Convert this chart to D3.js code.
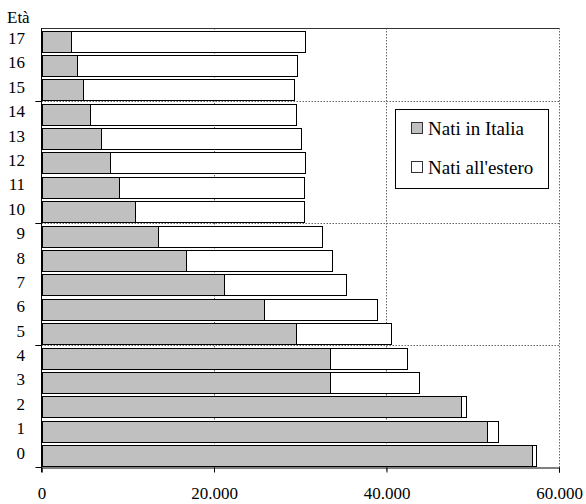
<!DOCTYPE html>
<html>
<head>
<meta charset="utf-8">
<script src="https://cdn.jsdelivr.net/npm/d3@7"></script>
<style>
  body { margin: 0; background: #fff; }
  text { font-family: "Liberation Serif", "Times New Roman", serif; fill: #000; }
</style>
</head>
<body>
<div id="chart"></div>
<script>
var width = 586, height = 504;
var plotLeft = 41.5, plotRight = 559, plotTop = 28, plotBottom = 467;

// data
var ages = ["0","1","2","3","4","5","6","7","8","9","10","11","12","13","14","15","16","17"];
var natiItalia = [56900, 51700, 48600, 33450, 33450, 29470, 25830, 21120, 16790, 13540, 10810, 9020, 7940, 6860, 5570, 4810, 4120, 3420];
var natiEstero = [400, 1260, 580, 10280, 8890, 11020, 13030, 14150, 16860, 19020, 19590, 21380, 22650, 23190, 23900, 24500, 25500, 27170];
var xTicks = [0, 20000, 40000, 60000];
var groupBreaks = ["4", "9", "14"]; // dotted line above these ages
var seriesNames = ["Nati in Italia", "Nati all'estero"];
var colors = ["#c0c0c0", "#ffffff"];

var data = ages.map(function(a, i) {
  return { age: a, italia: natiItalia[i], estero: natiEstero[i] };
});

var svg = d3.select("#chart").append("svg")
  .attr("width", width)
  .attr("height", height);

var x = d3.scaleLinear().domain([0, 60000]).range([plotLeft, plotRight]);
var y = d3.scaleBand().domain(ages.slice().reverse()).range([plotTop, plotBottom]).padding(0);

var fmt = function(d) { return d3.format(",")(d).replace(/,/g, "."); };

// grid: vertical dotted
svg.append("g").selectAll("line")
  .data(xTicks.slice(1))
  .enter().append("line")
  .attr("x1", function(d) { return Math.round(x(d)) + 0.5; })
  .attr("x2", function(d) { return Math.round(x(d)) + 0.5; })
  .attr("y1", plotTop)
  .attr("y2", plotBottom + 5)
  .attr("stroke", "#666")
  .attr("stroke-dasharray", "1.5,1.5");

// grid: horizontal dotted at age groups
svg.append("g").selectAll("line")
  .data(groupBreaks)
  .enter().append("line")
  .attr("x1", plotLeft - 6)
  .attr("x2", plotRight)
  .attr("y1", function(d) { return Math.round(y(d)) + 0.5; })
  .attr("y2", function(d) { return Math.round(y(d)) + 0.5; })
  .attr("stroke", "#666")
  .attr("stroke-dasharray", "1.5,1.5");

// top border
svg.append("line")
  .attr("x1", plotLeft).attr("x2", plotRight)
  .attr("y1", plotTop + 0.5).attr("y2", plotTop + 0.5)
  .attr("stroke", "#333");

var stack = d3.stack().keys(["italia", "estero"]);
var series = stack(data);

var barH = y.bandwidth() - 3.5;

svg.append("g").selectAll("g")
  .data(series)
  .enter().append("g")
  .attr("fill", function(d, i) { return colors[i]; })
  .selectAll("rect")
  .data(function(d) { return d; })
  .enter().append("rect")
  .attr("x", function(d) { return Math.round(x(d[0])) + 0.5; })
  .attr("width", function(d) { return Math.round(x(d[1])) - Math.round(x(d[0])); })
  .attr("y", function(d) { return Math.round(y(d.data.age) + 2.5) + 0.5; })
  .attr("height", Math.round(barH))
  .attr("stroke", "#000")
  .attr("stroke-width", 1);

// axes
var xAxis = d3.axisBottom(x).tickValues(xTicks).tickFormat(fmt).tickSize(5).tickPadding(14);
svg.append("g")
  .attr("transform", "translate(0," + (plotBottom + 0.5) + ")")
  .call(xAxis)
  .call(function(g) {
    g.select(".domain").attr("stroke", "#000");
    g.selectAll("line").attr("stroke", "#000");
    g.selectAll("text").attr("font-size", "17px").attr("font-family", "Liberation Serif, serif");
  });

// y axis line + ticks at group boundaries
svg.append("line")
  .attr("x1", plotLeft).attr("x2", plotLeft)
  .attr("y1", plotTop).attr("y2", plotBottom + 5)
  .attr("stroke", "#000");

svg.append("g").selectAll("line")
  .data(groupBreaks.concat(["-1"]))
  .enter().append("line")
  .attr("x1", plotLeft - 6).attr("x2", plotLeft)
  .attr("y1", function(d) { return d === "-1" ? plotBottom + 0.5 : Math.round(y(d)) + 0.5; })
  .attr("y2", function(d) { return d === "-1" ? plotBottom + 0.5 : Math.round(y(d)) + 0.5; })
  .attr("stroke", "#000");

svg.append("g").selectAll("text")
  .data(ages)
  .enter().append("text")
  .attr("x", 25)
  .attr("y", function(d) { return y(d) + 16; })
  .attr("text-anchor", "end")
  .attr("font-size", "17px")
  .text(function(d) { return d; });

svg.append("text")
  .attr("x", 7)
  .attr("y", 22.5)
  .attr("font-size", "17px")
  .text("Età");

// legend
var legend = svg.append("g");
legend.append("rect")
  .attr("x", 395.5).attr("y", 109.5)
  .attr("width", 153).attr("height", 79)
  .attr("fill", "#fff")
  .attr("stroke", "#000");

var item = legend.selectAll("g.item")
  .data(seriesNames)
  .enter().append("g")
  .attr("class", "item")
  .attr("transform", function(d, i) { return "translate(0," + (i * 39) + ")"; });

item.append("rect")
  .attr("x", 411.5).attr("y", 122.5)
  .attr("width", 11).attr("height", 11)
  .attr("fill", function(d, i) { return colors[i]; })
  .attr("stroke", "#333");

item.append("text")
  .attr("x", 428)
  .attr("y", 135)
  .attr("font-size", "19px")
  .text(function(d) { return d; });
</script>
</body>
</html>
